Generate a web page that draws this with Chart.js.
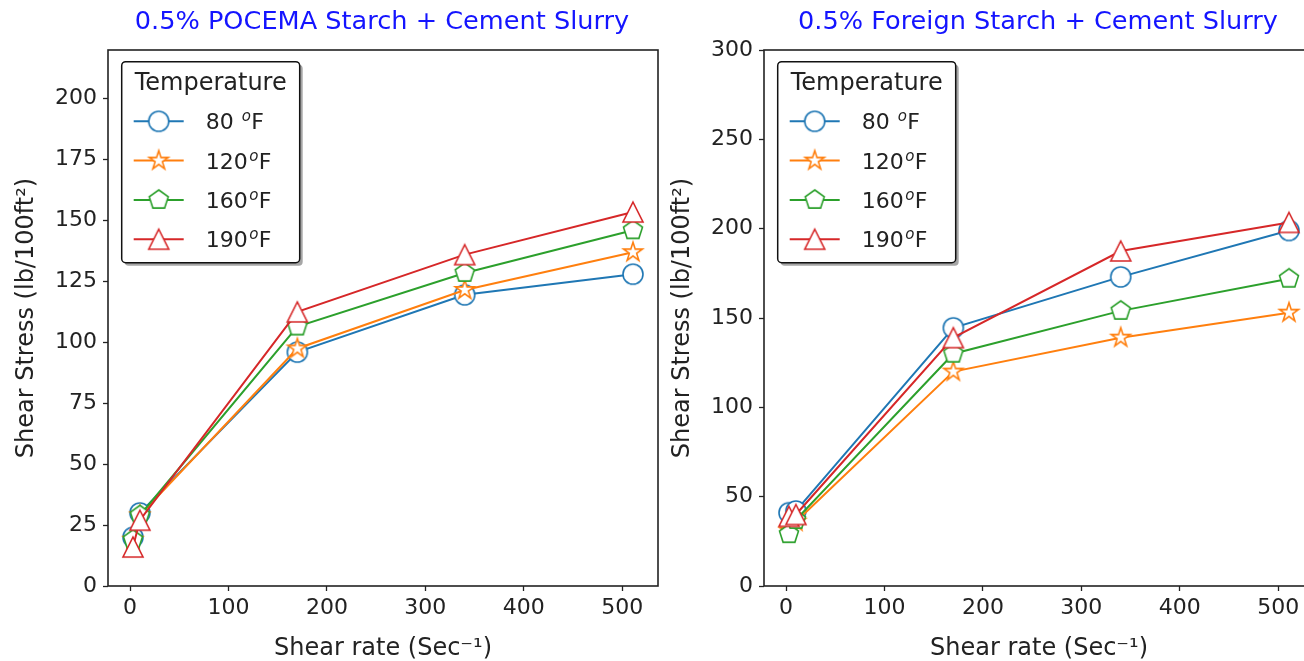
<!DOCTYPE html>
<html>
<head>
<meta charset="utf-8">
<title>Shear stress vs shear rate</title>
<script src="https://cdn.jsdelivr.net/npm/chart.js@4.4.1/dist/chart.umd.min.js"></script>
<style>
  html, body { margin: 0; padding: 0; background: #fff; overflow: hidden; }
  body { width: 1304px; height: 661px; position: relative; }
  canvas { position: absolute; top: 0; }
  #pocemaChart { left: 0; }
  #foreignChart { left: 656px; }
</style>
</head>
<body>
<canvas id="pocemaChart" width="660" height="661"></canvas>
<canvas id="foreignChart" width="660" height="661"></canvas>
<script>
// shear rates (1/s) used for every reading
const shearRate = [3, 10, 170, 340, 511];
const temps = ['80', '120', '160', '190'];

// 0.5% POCEMA starch, shear stress in lb/100ft2
const pocema80  = [20, 30, 96, 119.5, 128];
const pocema120 = [19, 29, 97.5, 121.5, 137];
const pocema160 = [19, 29, 106.5, 128.5, 146];
const pocema190 = [16, 27, 112.5, 136, 153.5];

// 0.5% foreign starch
const foreign80  = [41, 42, 144.5, 173, 199];
const foreign120 = [31, 36, 120, 139, 153];
const foreign160 = [29, 37, 130, 154, 172];
const foreign190 = [39, 40, 139, 187.5, 203.5];

const xTicks = [0, 100, 200, 300, 400, 500];
const pocemaYTicks = [0, 25, 50, 75, 100, 125, 150, 175, 200];
const foreignYTicks = [0, 50, 100, 150, 200, 250, 300];

const COLORS = ['#1f77b4', '#ff7f0e', '#2ca02c', '#d62728'];
const SHAPES = ['circle', 'star', 'pentagon', 'triangle'];
const FONT = "'DejaVu Sans', sans-serif";
const INK = '#222';

// hollow markers, drawn once into small canvases and used as pointStyle
function markerPath(ctx, shape, cx, cy, r) {
  ctx.beginPath();
  if (shape === 'circle') {
    ctx.arc(cx, cy, r, 0, Math.PI * 2);
  } else if (shape === 'triangle') {
    ctx.moveTo(cx, cy - r);
    ctx.lineTo(cx + r, cy + r);
    ctx.lineTo(cx - r, cy + r);
  } else {
    const n = 5;
    const star = shape === 'star';
    const steps = star ? n * 2 : n;
    for (let i = 0; i < steps; i++) {
      const a = -Math.PI / 2 + i * Math.PI * 2 / steps;
      const rr = star && i % 2 ? r * 0.381966 : r;
      const px = cx + rr * Math.cos(a), py = cy + rr * Math.sin(a);
      i ? ctx.lineTo(px, py) : ctx.moveTo(px, py);
    }
  }
  ctx.closePath();
}

function makeMarker(shape, color) {
  const c = document.createElement('canvas');
  c.width = 26; c.height = 26;
  const ctx = c.getContext('2d');
  markerPath(ctx, shape, 13, 13, 10);
  ctx.fillStyle = '#fff';
  ctx.fill();
  ctx.lineWidth = 1.6;
  ctx.lineJoin = 'miter';
  ctx.strokeStyle = color;
  ctx.stroke();
  return c;
}
const markers = SHAPES.map((s, i) => makeMarker(s, COLORS[i]));

function roundRect(ctx, x, y, w, h, r) {
  ctx.beginPath();
  ctx.moveTo(x + r, y);
  ctx.arcTo(x + w, y, x + w, y + h, r);
  ctx.arcTo(x + w, y + h, x, y + h, r);
  ctx.arcTo(x, y + h, x, y, r);
  ctx.arcTo(x, y, x + w, y, r);
  ctx.closePath();
}

function drawLegend(ctx, x0, y0) {
  const w = 178, h = 201;
  ctx.save();
  roundRect(ctx, x0 + 3, y0 + 3, w, h, 4);
  ctx.fillStyle = 'rgba(77,77,77,0.5)';
  ctx.fill();
  roundRect(ctx, x0, y0, w, h, 4);
  ctx.fillStyle = '#fff';
  ctx.fill();
  ctx.lineWidth = 1.5;
  ctx.strokeStyle = '#111';
  ctx.stroke();

  ctx.fillStyle = INK;
  ctx.textBaseline = 'middle';
  ctx.textAlign = 'center';
  ctx.font = '24px ' + FONT;
  ctx.fillText('Temperature', x0 + w / 2, y0 + 22);

  temps.forEach((t, i) => {
    const y = y0 + 59.6 + i * 39.3;
    ctx.strokeStyle = COLORS[i];
    ctx.lineWidth = 2;
    ctx.beginPath();
    ctx.moveTo(x0 + 12, y);
    ctx.lineTo(x0 + 62, y);
    ctx.stroke();
    ctx.drawImage(markers[i], x0 + 37 - 13, y - 13);

    // "<t> °F" with a raised italic o
    ctx.fillStyle = INK;
    ctx.textAlign = 'left';
    ctx.textBaseline = 'alphabetic';
    ctx.font = '22px ' + FONT;
    const base = y + 8;
    const tx = x0 + 84;
    ctx.fillText(t, tx, base);
    let ox = tx + ctx.measureText(t).width + (t.length < 3 ? 8 : 1.5);
    ctx.font = 'italic 15px ' + FONT;
    ctx.fillText('o', ox, base - 8);
    ox += ctx.measureText('o').width + 0.5;
    ctx.font = '22px ' + FONT;
    ctx.fillText('F', ox, base);
  });
  ctx.restore();
}

// title above the plot, frame on top of the lines, legend last
function panelDecor(title) {
  return {
    id: 'panelDecor',
    afterDatasetsDraw(chart) {
      const { ctx, chartArea: a } = chart;
      ctx.save();
      ctx.strokeStyle = INK;
      ctx.lineWidth = 1.6;
      ctx.strokeRect(a.left, a.top, a.right - a.left, a.bottom - a.top);
      ctx.restore();
    },
    afterDraw(chart) {
      const { ctx, chartArea: a } = chart;
      ctx.save();
      ctx.fillStyle = '#1414ff';
      ctx.font = '25.6px ' + FONT;
      ctx.textAlign = 'center';
      ctx.textBaseline = 'middle';
      ctx.fillText(title, (a.left + a.right) / 2 - 1, 22);
      ctx.restore();
      drawLegend(ctx, a.left + 13.7, a.top + 11.7);
    }
  };
}

function makeChart(id, title, series, yMax, yTicks) {
  const xPad = (shearRate[shearRate.length - 1] - shearRate[0]) * 0.05;
  const datasets = series.map((vals, i) => ({
    label: temps[i] + ' °F',
    data: shearRate.map((x, j) => ({ x, y: vals[j] })),
    borderColor: COLORS[i],
    borderWidth: 2,
    pointStyle: markers[i],
    pointRadius: 10,
    pointHoverRadius: 10,
    tension: 0,
    fill: false,
    order: series.length - 1 - i
  }));
  const tickFont = { family: FONT, size: 22 };
  return new Chart(document.getElementById(id), {
    type: 'line',
    data: { datasets },
    options: {
      responsive: false,
      animation: false,
      events: [],
      layout: { autoPadding: false, padding: { top: 50, right: 2, left: 0, bottom: 0 } },
      plugins: { legend: { display: false }, tooltip: { enabled: false }, title: { display: false } },
      scales: {
        x: {
          type: 'linear',
          min: shearRate[0] - xPad,
          max: shearRate[shearRate.length - 1] + xPad,
          afterBuildTicks: s => { s.ticks = xTicks.map(v => ({ value: v })); },
          afterFit: s => { s.height = 75; s.paddingLeft = 0; s.paddingRight = 0; },
          grid: { drawOnChartArea: false, drawTicks: true, tickLength: 5, tickWidth: 1.3, tickColor: INK },
          border: { display: false },
          ticks: { font: tickFont, color: INK, padding: 4, maxRotation: 0 },
          title: { display: true, text: 'Shear rate (Sec⁻¹)', font: { family: FONT, size: 24, lineHeight: 1 }, color: INK, padding: { top: 0, bottom: 0 } }
        },
        y: {
          type: 'linear',
          min: 0,
          max: yMax,
          afterBuildTicks: s => { s.ticks = yTicks.map(v => ({ value: v })); },
          afterFit: s => { s.width = 108; s.paddingTop = 0; s.paddingBottom = 0; },
          grid: { drawOnChartArea: false, drawTicks: true, tickLength: 5, tickWidth: 1.3, tickColor: INK },
          border: { display: false },
          ticks: { font: tickFont, color: INK, padding: 6 },
          title: { display: true, text: 'Shear Stress (lb/100ft²)', font: { family: FONT, size: 24 }, color: INK, padding: { top: 12, bottom: 0 } }
        }
      }
    },
    plugins: [panelDecor(title)]
  });
}

makeChart('pocemaChart', '0.5% POCEMA Starch + Cement Slurry',
  [pocema80, pocema120, pocema160, pocema190], 220, pocemaYTicks);
makeChart('foreignChart', '0.5% Foreign Starch + Cement Slurry',
  [foreign80, foreign120, foreign160, foreign190], 300, foreignYTicks);
</script>
</body>
</html>
